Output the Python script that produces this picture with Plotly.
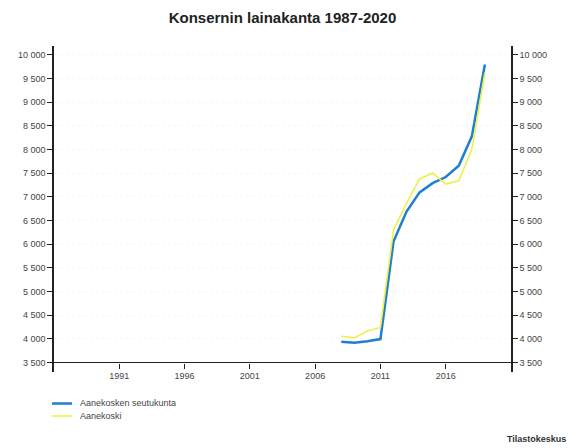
import plotly.graph_objects as go

years = [2008, 2009, 2010, 2011, 2012, 2013, 2014, 2015, 2016, 2017, 2018, 2019]
seutukunta = [3940, 3915, 3950, 3995, 6055, 6690, 7095, 7290, 7420, 7660, 8280, 9800]
aanekoski = [4055, 4020, 4165, 4240, 6300, 6870, 7380, 7505, 7270, 7340, 8000, 9625]
x_ticks = [1991, 1996, 2001, 2006, 2011, 2016]
y_ticks = [3500, 4000, 4500, 5000, 5500, 6000, 6500, 7000, 7500, 8000, 8500, 9000, 9500, 10000]

title = "Konsernin lainakanta 1987-2020"
name_blue = "Aanekosken seutukunta"
name_yellow = "Aanekoski"
source = "Tilastokeskus"

color_blue = "#1f7ed0"
color_yellow = "#eef04a"

y_range = [3299, 10190]
x_range = [1986, 2021]
y_labels = [f"{v:,}".replace(",", " ") for v in y_ticks]

# Figure is drawn at an 8px body offset inside the 578x448 window
W, H = 570, 440
ML, MR, MT, MB = 46, 67, 38, 76
PW, PH = W - ML - MR, H - MT - MB


def px(xw):  # window x -> paper x
    return (xw - 8 - ML) / PW


def py(yw):  # window y -> paper y
    return (H - MB - (yw - 8)) / PH


fig = go.Figure()
fig.add_trace(go.Scatter(x=years, y=seutukunta, mode="lines", name=name_blue,
                         line=dict(color=color_blue, width=2.5), showlegend=False))
fig.add_trace(go.Scatter(x=years, y=aanekoski, mode="lines", name=name_yellow,
                         line=dict(color=color_yellow, width=1.6), showlegend=False))
# invisible trace for right axis
fig.add_trace(go.Scatter(x=years, y=seutukunta, yaxis="y2", mode="lines",
                         showlegend=False, hoverinfo="skip",
                         line=dict(color="rgba(0,0,0,0)", width=0)))

font_family = "Liberation Sans, Arial, sans-serif"
axis_font = dict(family=font_family, size=9, color="#444")
pos = (3500 - y_range[0]) / (y_range[1] - y_range[0])

shapes = [
    dict(type="line", xref="paper", yref="paper", x0=px(52), x1=px(72), y0=py(403.5), y1=py(403.5),
         line=dict(color=color_blue, width=2.5)),
    dict(type="line", xref="paper", yref="paper", x0=px(52), x1=px(72), y0=py(416), y1=py(416),
         line=dict(color=color_yellow, width=1.6)),
    # short extension of the x axis line to the left of the y axis
    dict(type="line", xref="paper", yref="paper", x0=px(50), x1=0, y0=pos, y1=pos,
         line=dict(color="#222", width=1.2)),
]
annotations = [
    dict(text=name_blue, xref="paper", yref="paper", x=px(78), y=py(403), xanchor="left",
         yanchor="middle", showarrow=False, font=dict(family=font_family, size=9, color="#444")),
    dict(text=name_yellow, xref="paper", yref="paper", x=px(78), y=py(416), xanchor="left",
         yanchor="middle", showarrow=False, font=dict(family=font_family, size=9, color="#444")),
    dict(text=f"<b>{source}</b>", xref="paper", yref="paper", x=px(568), y=py(439),
         xanchor="right", yanchor="middle", showarrow=False,
         font=dict(family=font_family, size=9, color="#333")),
]

fig.update_layout(
    width=W, height=H,
    margin=dict(l=ML, r=MR, t=MT, b=MB, autoexpand=False),
    paper_bgcolor="white", plot_bgcolor="white",
    title=dict(text=f"<b>{title}</b>", x=0.5, xref="paper", y=1 - (18 - 8) / H, yanchor="middle",
               font=dict(family=font_family, size=15, color="#222")),
    xaxis=dict(range=x_range, tickvals=x_ticks, ticks="outside", ticklen=5,
               tickcolor="#222", showline=True, linecolor="#222", linewidth=1.2,
               showgrid=False, zeroline=False, anchor="free", position=pos,
               tickfont=axis_font),
    yaxis=dict(range=y_range, tickvals=y_ticks, ticktext=y_labels, ticks="outside",
               ticklen=5, tickcolor="#222", showline=True, linecolor="#222", linewidth=1.5,
               showgrid=True, gridcolor="#f6f6f6", griddash="dot", zeroline=False,
               tickfont=axis_font),
    yaxis2=dict(range=y_range, tickvals=y_ticks, ticktext=y_labels, ticks="outside",
                ticklen=5, tickcolor="#222", showline=True, linecolor="#222", linewidth=1.5,
                showgrid=False, zeroline=False, overlaying="y", side="right",
                tickfont=axis_font),
    showlegend=False,
    shapes=shapes,
    annotations=annotations,
)

fig.write_html("out.html")
